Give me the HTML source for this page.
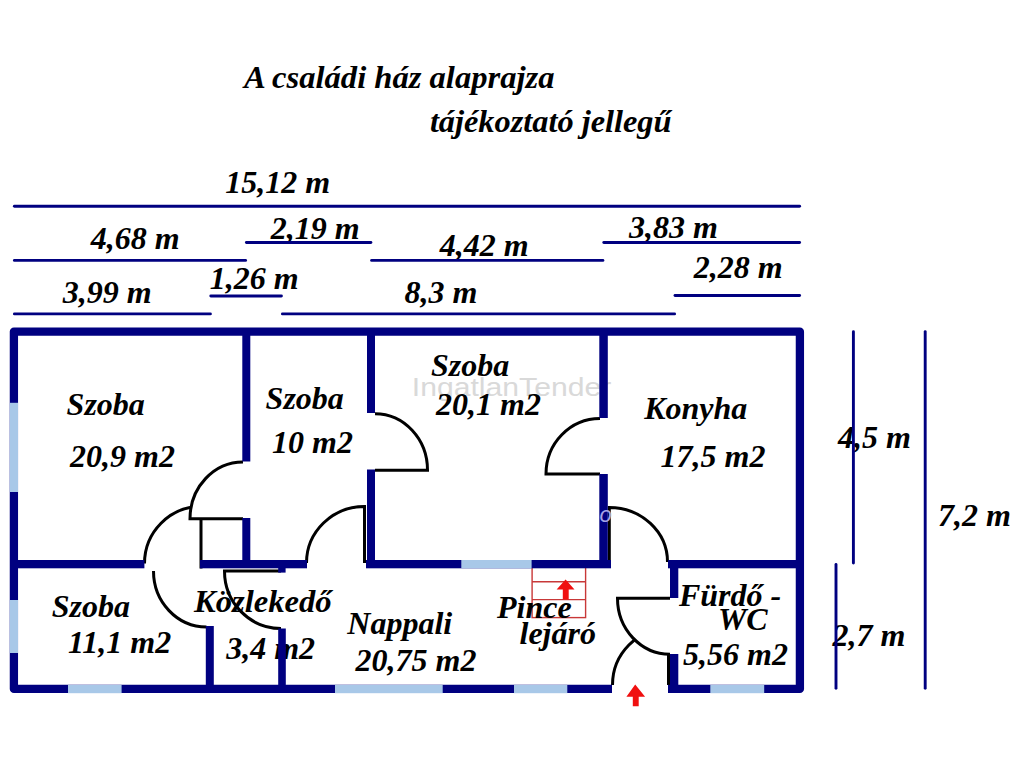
<!DOCTYPE html>
<html><head><meta charset="utf-8"><title>A családi ház alaprajza</title>
<style>
html,body{margin:0;padding:0;background:#fff;width:1024px;height:768px;overflow:hidden}
svg{display:block}
</style></head>
<body>
<svg width="1024" height="768" viewBox="0 0 1024 768">
<rect width="1024" height="768" fill="#fff"/>
<text transform="translate(411.8,396.3) scale(1.16,1)" x="0" y="0" font-family="Liberation Sans, sans-serif" font-size="26" fill="#d9d9d9">IngatlanTender</text>
<g fill="none" stroke="#c83838" stroke-width="1.4"><rect x="532.1" y="567" width="53.5" height="50.6"/><line x1="532" y1="581.7" x2="585.6" y2="581.7"/><line x1="532" y1="599.6" x2="585.6" y2="599.6"/></g>
<path d="M565.6,579.6 L574.5,589.6 L568.7,589.6 L568.7,599.6 L562.8,599.6 L562.8,589.6 L556.6,589.6 Z" fill="#f01010"/>
<path d="M201,568.5 L201,506.5 A56.5,57 0 0 0 144.5,563.5" fill="none" stroke="#000" stroke-width="3.0"/>
<path d="M668.5,685 L668.5,628.5 A56,56.5 0 0 0 612.5,685" fill="none" stroke="#000" stroke-width="3.0"/>
<path d="M243,518.8 L190,518.8 A53,56.8 0 0 1 243,462 Z" fill="#fff" stroke="none"/>
<path d="M671.5,598.3 L617.5,598.3 A52.5,56 0 0 0 671.5,654.3 Z" fill="#fff"/>
<g font-family="Liberation Serif, serif" font-weight="bold" font-style="italic" font-size="32" fill="#000"><text x="244.0" y="87.5" font-size="32.6">A családi ház alaprajza</text>
<text x="429.9" y="131.8" font-size="32.35">tájékoztató jellegű</text>
<text x="225.3" y="192.8">15,12 m</text>
<text x="90.7" y="249.3">4,68 m</text>
<text x="62.8" y="303">3,99 m</text>
<text x="270.8" y="239">2,19 m</text>
<text x="209.8" y="288.9">1,26 m</text>
<text x="439.7" y="255.9">4,42 m</text>
<text x="404.4" y="302.8">8,3 m</text>
<text x="628.9" y="238.3">3,83 m</text>
<text x="693.8" y="277.6">2,28 m</text>
<text x="66.6" y="415.2">Szoba</text>
<text x="70.0" y="467">20,9 m2</text>
<text x="265.6" y="409">Szoba</text>
<text x="272.1" y="452.7">10 m2</text>
<text x="431.0" y="375.9">Szoba</text>
<text x="436.0" y="415.4">20,1 m2</text>
<text x="644.2" y="418.6">Konyha</text>
<text x="660.5" y="467">17,5 m2</text>
<text x="51.7" y="616.7">Szoba</text>
<text x="68.1" y="653.4">11,1 m2</text>
<text x="194.0" y="611.5" font-size="32.6">Közlekedő</text>
<text x="226.2" y="659.1">3,4 m2</text>
<text x="347.3" y="633.8">Nappali</text>
<text x="355.5" y="670.7">20,75 m2</text>
<text x="497.0" y="618.0">Pince</text>
<text x="519.5" y="644.3">lejáró</text>
<text x="678.9" y="606.2">Fürdő -</text>
<text x="717.9" y="630.2">WC</text>
<text x="683.0" y="665.2">5,56 m2</text>
<text x="838.0" y="448">4,5 m</text>
<text x="937.9" y="525.8">7,2 m</text>
<text x="832.5" y="646.2">2,7 m</text></g>
<path d="M153.5,571 A53,56 0 0 0 206.5,627" fill="none" stroke="#000" stroke-width="3.0"/>
<path d="M243,518.8 L190,518.8 A53,56.8 0 0 1 243,462" fill="none" stroke="#000" stroke-width="3.0"/>
<path d="M281,571 L224.5,571 A56.5,57.5 0 0 0 281,628.5" fill="none" stroke="#000" stroke-width="3.0"/>
<path d="M364.5,563 L364.5,506.5 A58,56.5 0 0 0 306.5,563" fill="none" stroke="#000" stroke-width="3.0"/>
<path d="M375,470.2 L427.5,470.2 A52.5,56.4 0 0 0 375,413.8" fill="none" stroke="#000" stroke-width="3.0"/>
<path d="M600,474 L546,474 A54,55.5 0 0 1 600,418.5" fill="none" stroke="#000" stroke-width="3.0"/>
<path d="M609.3,562 L609.3,507.5 A58.2,54.5 0 0 1 667.5,562" fill="none" stroke="#000" stroke-width="3.0"/>
<path d="M670,598.3 L617.5,598.3 A52.5,56 0 0 0 670,654.3" fill="none" stroke="#000" stroke-width="3.0"/>
<g stroke="#000080" stroke-width="2.9" stroke-linecap="round"><line x1="14.4" y1="206.2" x2="799.6" y2="206.2"/>
<line x1="14.4" y1="260.4" x2="245.6" y2="260.4"/>
<line x1="246.4" y1="242.5" x2="370.90000000000003" y2="242.5"/>
<line x1="371.59999999999997" y1="260.4" x2="602.9" y2="260.4"/>
<line x1="603.8" y1="242.5" x2="799.6" y2="242.5"/>
<line x1="14.4" y1="313.9" x2="210.4" y2="313.9"/>
<line x1="210.8" y1="296" x2="281.40000000000003" y2="296"/>
<line x1="282.4" y1="313.9" x2="674.6" y2="313.9"/>
<line x1="675.0" y1="295.5" x2="799.6" y2="295.5"/>
<line x1="853.4" y1="331.79999999999995" x2="853.4" y2="563.1"/>
<line x1="925.2" y1="331.59999999999997" x2="925.2" y2="688.3000000000001"/>
<line x1="836.0" y1="564.4" x2="836.0" y2="688.3000000000001"/></g>
<path d="M612,688.9 L13.9,688.9 L13.9,331.6 L799.9,331.6 L799.9,688.9 L668,688.9" fill="none" stroke="#000080" stroke-width="8.3" stroke-linejoin="round"/>
<rect x="242.3" y="335" width="8.0" height="126.5" fill="#000080"/>
<rect x="242.3" y="518" width="8.0" height="50" fill="#000080"/>
<rect x="367" y="335" width="8" height="78" fill="#000080"/>
<rect x="367" y="469.5" width="8" height="98.5" fill="#000080"/>
<rect x="599.3" y="335" width="8.5" height="83" fill="#000080"/>
<rect x="599.3" y="474" width="8.5" height="94" fill="#000080"/>
<rect x="17" y="560" width="127.4" height="8.3" fill="#000080"/>
<rect x="200" y="560" width="107" height="8.3" fill="#000080"/>
<rect x="366" y="560" width="245" height="8.3" fill="#000080"/>
<rect x="668" y="560" width="129" height="8.3" fill="#000080"/>
<rect x="205.8" y="626" width="8.0" height="60" fill="#000080"/>
<rect x="278.2" y="628.5" width="7.6" height="57.5" fill="#000080"/>
<rect x="278.2" y="566" width="7.4" height="6.6" fill="#000080"/>
<rect x="670" y="560" width="8.3" height="38" fill="#000080"/>
<rect x="670" y="654" width="8.3" height="32" fill="#000080"/>
<rect x="9.8" y="402.8" width="8.2" height="89.2" fill="#a8c8e8"/>
<rect x="9.8" y="600" width="8.2" height="53" fill="#a8c8e8"/>
<rect x="68" y="685" width="53.6" height="8.2" fill="#a8c8e8"/>
<rect x="335" y="685" width="107.7" height="8.2" fill="#a8c8e8"/>
<rect x="514" y="685" width="53.3" height="8.2" fill="#a8c8e8"/>
<rect x="710.3" y="685" width="53.9" height="8.2" fill="#a8c8e8"/>
<rect x="461.3" y="560" width="70.3" height="8.3" fill="#a8c8e8"/>
<text x="599.6" y="522" font-family="Liberation Sans, sans-serif" font-style="italic" font-size="22" fill="#a4a4e6">o</text>
<path d="M635.2,684.5 L645.1,696.8 L638.7,696.8 L638.7,706.2 L632.8,706.2 L632.8,696.8 L626.4,696.8 Z" fill="#f01010"/>
</svg>
</body></html>
